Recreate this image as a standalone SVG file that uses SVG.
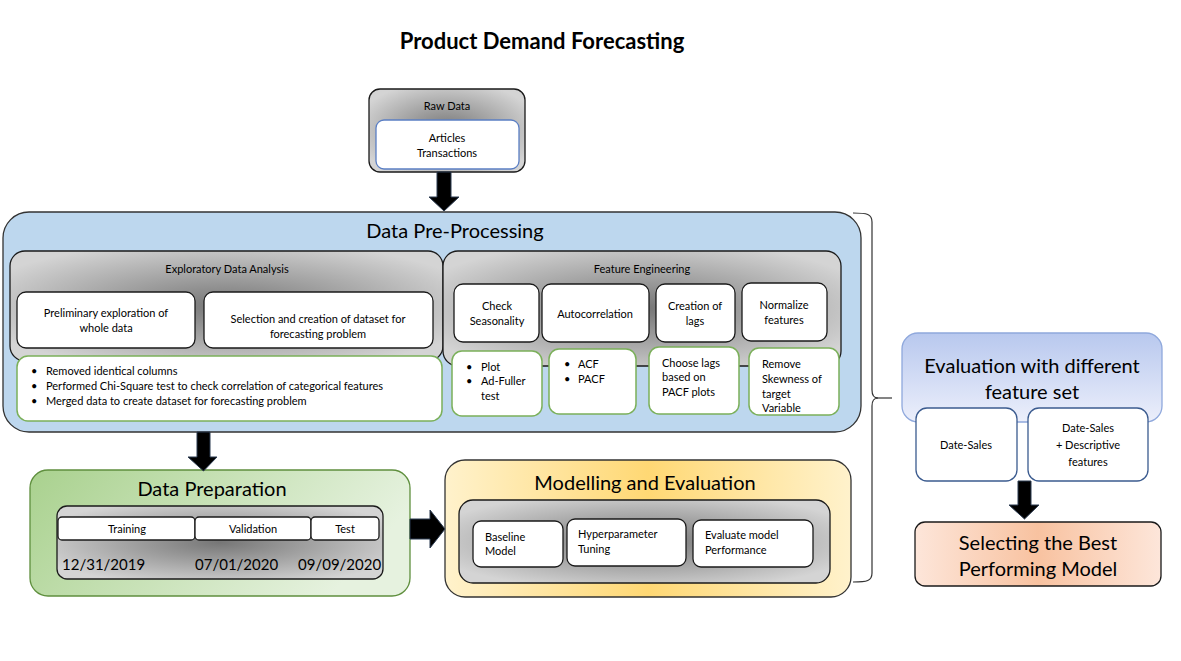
<svg xmlns="http://www.w3.org/2000/svg" width="1181" height="661" viewBox="0 0 1181 661">
<defs>
<radialGradient id="gray" cx="50%" cy="50%" r="60%">
<stop offset="0" stop-color="#767676"/>
<stop offset="1" stop-color="#d4d4d4"/>
</radialGradient>
<linearGradient id="green" x1="0" y1="0" x2="1" y2="0.3">
<stop offset="0" stop-color="#a9d18e"/>
<stop offset="1" stop-color="#e6f2df"/>
</linearGradient>
<linearGradient id="yellow" x1="0" y1="0" x2="1" y2="0">
<stop offset="0" stop-color="#fff2cc"/>
<stop offset="0.5" stop-color="#ffd874"/>
<stop offset="1" stop-color="#fff2cc"/>
</linearGradient>
<linearGradient id="blue" x1="0" y1="0" x2="0" y2="1">
<stop offset="0" stop-color="#b8c8ee"/>
<stop offset="1" stop-color="#eceffb"/>
</linearGradient>
<linearGradient id="peach" x1="0" y1="0" x2="1" y2="0">
<stop offset="0" stop-color="#fde6da"/>
<stop offset="0.5" stop-color="#f8c2a0"/>
<stop offset="1" stop-color="#fde6da"/>
</linearGradient>
</defs>
<style>
text{font-family:Lato,"Liberation Sans",sans-serif;fill:#000}
.s{font-size:11px}
.m{font-size:15px}
.l{font-size:20px}
.c{text-anchor:middle}
.gbox{fill:url(#gray);stroke:#1a1a1a;stroke-width:1.3}
.wbox{fill:#fff;stroke:#1a1a1a;stroke-width:1.3}
.gnbox{fill:#fff;stroke:#7bb05a;stroke-width:1.5}
.arrow{fill:#000;stroke:#2a3a50;stroke-width:1}
</style>
<rect width="1181" height="661" fill="#fff"/>
<text x="542" y="49" class="c" style="font-size:22px;font-weight:bold">Product Demand Forecasting</text>

<g id="raw-data">
<rect x="369" y="89" width="156" height="83" rx="11" class="gbox"/>
<text x="447" y="110" class="s c">Raw Data</text>
<rect x="376" y="120" width="143" height="49" rx="8" fill="#fff" stroke="#5b7fc4" stroke-width="1.3"/>
<text x="447" y="142" class="s c">Articles</text>
<text x="447" y="157" class="s c">Transactions</text>
</g>

<g id="data-preprocessing">
<rect x="3" y="212" width="858" height="220" rx="26" fill="#bdd7ee" stroke="#333" stroke-width="1.3"/>
<text x="455" y="238" class="c l">Data Pre-Processing</text>
<g id="eda">
<rect x="10" y="251" width="433" height="110" rx="15" class="gbox"/>
<text x="227" y="273" class="s c">Exploratory Data Analysis</text>
<rect x="17" y="292" width="178" height="56" rx="9" class="wbox"/>
<text x="106" y="317" class="s c">Preliminary exploration of</text>
<text x="106" y="332" class="s c">whole data</text>
<rect x="204" y="292" width="229" height="56" rx="9" class="wbox"/>
<text x="318" y="323" class="s c">Selection and creation of dataset for</text>
<text x="318" y="338" class="s c">forecasting problem</text>
<rect x="17" y="356" width="425" height="65" rx="11" class="gnbox"/>
<text class="s"><tspan x="31" y="375">•</tspan><tspan x="46" y="375">Removed identical columns</tspan></text>
<text class="s"><tspan x="31" y="390">•</tspan><tspan x="46" y="390">Performed Chi-Square test to check correlation of categorical features</tspan></text>
<text class="s"><tspan x="31" y="405">•</tspan><tspan x="46" y="405">Merged data to create dataset for forecasting problem</tspan></text>
</g>
<g id="feature-engineering">
<rect x="443" y="251" width="398" height="115" rx="15" class="gbox"/>
<text x="642" y="273" class="s c">Feature Engineering</text>
<rect x="454" y="284" width="85" height="58" rx="9" class="wbox"/>
<text x="497" y="310" class="s c">Check</text>
<text x="497" y="325" class="s c">Seasonality</text>
<rect x="542" y="284" width="107" height="58" rx="9" class="wbox"/>
<text x="595" y="318" class="s c">Autocorrelation</text>
<rect x="656" y="284" width="79" height="58" rx="9" class="wbox"/>
<text x="695" y="310" class="s c">Creation of</text>
<text x="695" y="325" class="s c">lags</text>
<rect x="742" y="283" width="85" height="58" rx="9" class="wbox"/>
<text x="784" y="309" class="s c">Normalize</text>
<text x="784" y="324" class="s c">features</text>
<rect x="452" y="351" width="90" height="65" rx="10" class="gnbox"/>
<text class="s"><tspan x="466" y="371">•</tspan><tspan x="481" y="371">Plot</tspan></text>
<text class="s"><tspan x="466" y="385">•</tspan><tspan x="481" y="385">Ad-Fuller</tspan></text>
<text class="s"><tspan x="481" y="400">test</tspan></text>
<rect x="549" y="349" width="87" height="65" rx="10" class="gnbox"/>
<text class="s"><tspan x="564" y="368">•</tspan><tspan x="578" y="368">ACF</tspan></text>
<text class="s"><tspan x="564" y="383">•</tspan><tspan x="578" y="383">PACF</tspan></text>
<rect x="649" y="347" width="90" height="67" rx="10" class="gnbox"/>
<text class="s"><tspan x="662" y="367">Choose lags</tspan><tspan x="662" y="381">based on</tspan><tspan x="662" y="396">PACF plots</tspan></text>
<rect x="749" y="348" width="90" height="67" rx="10" class="gnbox"/>
<text class="s"><tspan x="762" y="368">Remove</tspan><tspan x="762" y="383">Skewness of</tspan><tspan x="762" y="398">target</tspan><tspan x="762" y="412">Variable</tspan></text>
</g>
</g>

<g id="data-preparation">
<rect x="30" y="470" width="380" height="126" rx="18" fill="url(#green)" stroke="#5f8f3e" stroke-width="1.3"/>
<text x="212" y="496" class="l c">Data Preparation</text>
<rect x="57" y="506" width="326" height="73" rx="10" class="gbox"/>
<rect x="58" y="517" width="137" height="23" rx="4" class="wbox"/>
<text x="127" y="533" class="s c">Training</text>
<rect x="195" y="517" width="116" height="23" rx="4" class="wbox"/>
<text x="253" y="533" class="s c">Validation</text>
<rect x="311" y="517" width="68" height="23" rx="4" class="wbox"/>
<text x="345" y="533" class="s c">Test</text>
<text x="62" y="570" class="m">12/31/2019</text>
<text x="195" y="570" class="m">07/01/2020</text>
<text x="298" y="570" class="m">09/09/2020</text>
</g>

<g id="modelling-evaluation">
<rect x="445" y="460" width="406" height="137" rx="20" fill="url(#yellow)" stroke="#333" stroke-width="1.3"/>
<text x="645" y="490" class="l c">Modelling and Evaluation</text>
<rect x="459" y="500" width="371" height="83" rx="14" class="gbox"/>
<rect x="473" y="521" width="90" height="46" rx="8" class="wbox"/>
<text class="s"><tspan x="485" y="541">Baseline</tspan><tspan x="485" y="555">Model</tspan></text>
<rect x="567" y="519" width="119" height="47" rx="8" class="wbox"/>
<text class="s"><tspan x="578" y="538">Hyperparameter</tspan><tspan x="578" y="553">Tuning</tspan></text>
<rect x="693" y="520" width="120" height="47" rx="8" class="wbox"/>
<text class="s"><tspan x="705" y="539">Evaluate model</tspan><tspan x="705" y="554">Performance</tspan></text>
</g>

<g id="evaluation-feature-set">
<rect x="902" y="333" width="260" height="89" rx="16" fill="url(#blue)" stroke="#8fa8dc" stroke-width="1.3"/>
<text x="1032" y="373" class="l c">Evaluation with different</text>
<text x="1032" y="399" class="l c">feature set</text>
<rect x="916" y="408" width="101" height="73" rx="11" fill="#fff" stroke="#3b5b8f" stroke-width="1.3"/>
<text x="966" y="449" class="s c">Date-Sales</text>
<rect x="1028" y="408" width="120" height="73" rx="11" fill="#fff" stroke="#3b5b8f" stroke-width="1.3"/>
<text x="1088" y="432" class="s c">Date-Sales</text>
<text x="1088" y="449" class="s c">+ Descriptive</text>
<text x="1088" y="466" class="s c">features</text>
</g>

<g id="select-best-model">
<rect x="915" y="522" width="246" height="64" rx="10" fill="url(#peach)" stroke="#1a1a1a" stroke-width="1.3"/>
<text x="1038" y="550" class="l c">Selecting the Best</text>
<text x="1038" y="576" class="l c">Performing Model</text>
</g>

<g id="connectors">
<polygon class="arrow" points="437,172 451,172 451,197 459,197 444,211 429,197 437,197"/>
<polygon class="arrow" points="197,432 210,432 210,457 217,457 203.5,471 188,457 197,457"/>
<polygon class="arrow" points="410,519 430,519 430,510 445,529 430,548 430,539 410,539"/>
<polygon class="arrow" points="1018,481 1031,481 1031,505 1039,505 1024.5,519 1009,505 1018,505"/>
<path d="M853,213 C867,213 872,214 872,222 L872,390 C872,395 874,398 878,398 C874,398 872,401 872,406 L872,573 C872,581 867,582 853,582" fill="none" stroke="#333" stroke-width="1.2"/>
<line x1="876" y1="398" x2="892" y2="398" stroke="#333" stroke-width="1.2"/>
</g>
</svg>
